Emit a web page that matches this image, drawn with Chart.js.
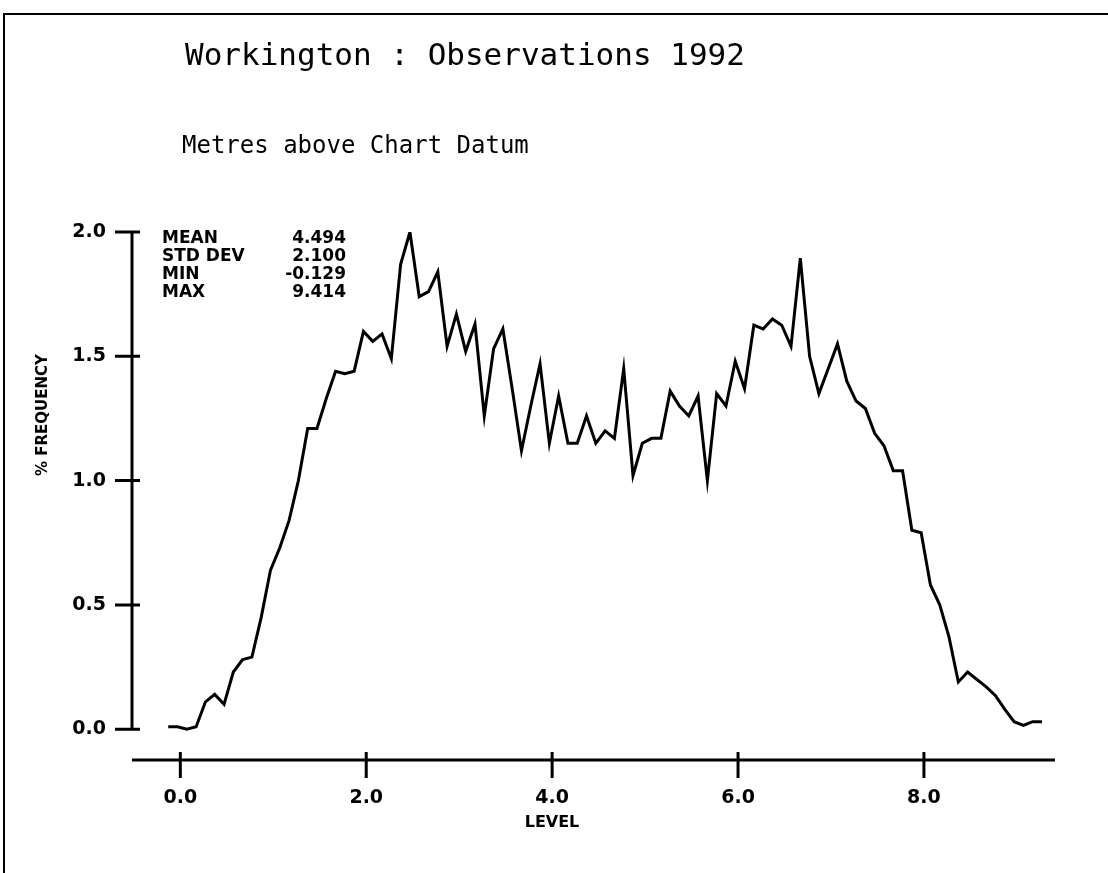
<!DOCTYPE html>
<html lang="en">
<head>
    <meta charset="UTF-8">
    <title>Workington : Observations 1992</title>
    <style>
        html, body { margin: 0; padding: 0; background: #fff; }
        #wrap { position: relative; width: 1108px; height: 873px; overflow: hidden; }
        #frame { position: absolute; left: 3px; top: 13px; width: 1110px; height: 870px;
                 border-top: 2px solid #000; border-left: 2px solid #000; }
        .txt { position: absolute; color: #000; white-space: pre; }
        #title { left: 185px; top: 39px; font: 31px/31px "DejaVu Sans Mono", monospace; }
        #subtitle { left: 182px; top: 133px; font: 24px/24px "DejaVu Sans Mono", monospace; }
        #stats { left: 162px; top: 228px; width: 184px; font: bold 17px/18px "DejaVu Sans", sans-serif; }
        #stats div { display: flex; justify-content: space-between; }
        #ytitle { left: 42px; top: 415px; font: bold 15px/15px "DejaVu Sans", sans-serif;
                  transform: translate(-50%, -50%) rotate(-90deg); }
        #xtitle { left: 552px; top: 822px; font: bold 16px/16px "DejaVu Sans", sans-serif;
                  transform: translate(-50%, -50%); }
        canvas { position: absolute; left: 0; top: 0; }
    </style>
</head>
<body>
<div id="wrap">
    <canvas id="freqChart" width="1108" height="873"></canvas>
    <div id="frame"></div>
    <div class="txt" id="title">Workington : Observations 1992</div>
    <div class="txt" id="subtitle">Metres above Chart Datum</div>
    <div class="txt" id="stats"></div>
    <div class="txt" id="ytitle">% FREQUENCY</div>
    <div class="txt" id="xtitle">LEVEL</div>
</div>

<script src="https://cdn.jsdelivr.net/npm/chart.js@4.4.1/dist/chart.umd.min.js"></script>
<script>
    // tide level (m above chart datum), one point per 0.1 m bin
    const levels = [
        -0.13, -0.03, 0.07, 0.17, 0.27, 0.37, 0.47, 0.57, 0.67, 0.77,
        0.87, 0.97, 1.07, 1.17, 1.27, 1.37, 1.47, 1.57, 1.67, 1.77,
        1.87, 1.97, 2.07, 2.17, 2.27, 2.37, 2.47, 2.57, 2.67, 2.77,
        2.87, 2.97, 3.07, 3.17, 3.27, 3.37, 3.47, 3.57, 3.67, 3.77,
        3.87, 3.97, 4.07, 4.17, 4.27, 4.37, 4.47, 4.57, 4.67, 4.77,
        4.87, 4.97, 5.07, 5.17, 5.27, 5.37, 5.47, 5.57, 5.67, 5.77,
        5.87, 5.97, 6.07, 6.17, 6.27, 6.37, 6.47, 6.57, 6.67, 6.77,
        6.87, 6.97, 7.07, 7.17, 7.27, 7.37, 7.47, 7.57, 7.67, 7.77,
        7.87, 7.97, 8.07, 8.17, 8.27, 8.37, 8.47, 8.57, 8.67, 8.77,
        8.87, 8.97, 9.07, 9.17, 9.27
    ];
    const frequency = [
        0.01, 0.01, 0.00, 0.01, 0.11, 0.14, 0.10, 0.23, 0.28, 0.29,
        0.45, 0.64, 0.73, 0.84, 1.00, 1.21, 1.21, 1.33, 1.44, 1.43,
        1.44, 1.60, 1.56, 1.59, 1.49, 1.87, 2.00, 1.74, 1.76, 1.84,
        1.54, 1.67, 1.52, 1.63, 1.26, 1.53, 1.61, 1.37, 1.12, 1.30,
        1.47, 1.15, 1.34, 1.15, 1.15, 1.26, 1.15, 1.20, 1.17, 1.45,
        1.02, 1.15, 1.17, 1.17, 1.36, 1.30, 1.26, 1.34, 1.00, 1.35,
        1.30, 1.48, 1.37, 1.625, 1.61, 1.65, 1.625, 1.54, 1.895, 1.50,
        1.35, 1.45, 1.55, 1.40, 1.32, 1.29, 1.19, 1.14, 1.04, 1.04,
        0.80, 0.79, 0.58, 0.50, 0.37, 0.19, 0.23, 0.20, 0.17, 0.135,
        0.08, 0.03, 0.015, 0.03, 0.03
    ];
    const xTicks = [0, 2, 4, 6, 8];
    const yTicks = [0, 0.5, 1.0, 1.5, 2.0];
    const statNames = ['MEAN', 'STD DEV', 'MIN', 'MAX'];
    const statValues = ['4.494', '2.100', '-0.129', '9.414'];

    const statsBox = document.getElementById('stats');
    statNames.forEach((name, i) => {
        const row = document.createElement('div');
        row.innerHTML = '<span>' + name + '</span><span>' + statValues[i] + '</span>';
        statsBox.appendChild(row);
    });

    // plotter style axes: y axis only spans the data range, x axis sits below it
    const plotterAxes = {
        id: 'plotterAxes',
        afterDraw(chart) {
            const ctx = chart.ctx;
            const xs = chart.scales.x, ys = chart.scales.y;
            const area = chart.chartArea;
            ctx.save();
            ctx.strokeStyle = '#000';
            ctx.lineWidth = 3;
            ctx.lineCap = 'butt';
            ctx.beginPath();
            ctx.moveTo(area.left, ys.getPixelForValue(yTicks[0]));
            ctx.lineTo(area.left, ys.getPixelForValue(yTicks[yTicks.length - 1]) - 1);
            yTicks.forEach(v => {
                const y = ys.getPixelForValue(v);
                ctx.moveTo(area.left - 17, y);
                ctx.lineTo(area.left + 8, y);
            });
            ctx.moveTo(area.left, area.bottom);
            ctx.lineTo(area.right, area.bottom);
            xTicks.forEach(v => {
                const x = xs.getPixelForValue(v);
                ctx.moveTo(x, area.bottom - 8);
                ctx.lineTo(x, area.bottom + 18);
            });
            ctx.stroke();
            ctx.restore();
        }
    };

    const tickFont = { family: 'DejaVu Sans', size: 19, weight: 'bold' };

    new Chart(document.getElementById('freqChart'), {
        type: 'line',
        data: {
            datasets: [{
                data: levels.map((x, i) => ({ x: x, y: frequency[i] })),
                borderColor: '#000',
                borderWidth: 3,
                pointRadius: 0,
                tension: 0,
                fill: false
            }]
        },
        options: {
            responsive: false,
            animation: false,
            layout: { padding: { top: 232, right: 53, left: 0, bottom: 0 } },
            plugins: { legend: { display: false }, tooltip: { enabled: false } },
            scales: {
                x: {
                    type: 'linear',
                    min: -0.52,
                    max: 9.41,
                    grid: { display: false, drawTicks: false },
                    border: { display: false },
                    afterBuildTicks: s => { s.ticks = xTicks.map(v => ({ value: v })); },
                    afterFit: s => { s.height = 113; },
                    ticks: {
                        color: '#000',
                        font: tickFont,
                        padding: 27,
                        maxRotation: 0,
                        callback: v => v.toFixed(1)
                    }
                },
                y: {
                    min: -0.124,
                    max: 2.0,
                    grid: { display: false, drawTicks: false },
                    border: { display: false },
                    afterBuildTicks: s => { s.ticks = yTicks.map(v => ({ value: v })); },
                    afterFit: s => { s.width = 132; },
                    ticks: {
                        color: '#000',
                        font: tickFont,
                        padding: 26,
                        callback: v => v.toFixed(1)
                    }
                }
            }
        },
        plugins: [plotterAxes]
    });
</script>
</body>
</html>
